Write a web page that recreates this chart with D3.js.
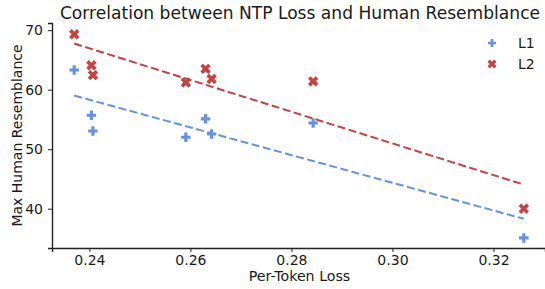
<!DOCTYPE html>
<html lang="en">
<head>
<meta charset="UTF-8">
<title>NTP Loss vs Human Resemblance</title>
<script src="https://d3js.org/d3.v7.min.js"></script>
<style>
    body { margin: 0; background: #fff; }
    text { font-family: "DejaVu Sans", sans-serif; fill: #1a1a1a; }
</style>
</head>
<body>
<svg width="545" height="289"></svg>
<script>
    // per-token loss for each checkpoint
    const loss = [0.2370, 0.2404, 0.2407, 0.2591, 0.2630, 0.2642, 0.2843, 0.3260];
    const l1Values = [63.3, 55.7, 53.05, 52.0, 55.1, 52.55, 54.4, 35.1];
    const l2Values = [69.3, 64.1, 62.45, 61.2, 63.5, 61.8, 61.4, 40.0];
    const xTicks = [0.24, 0.26, 0.28, 0.30, 0.32];
    const yTicks = [40, 50, 60, 70];

    const series = [
        {name: "L1", values: l1Values, color: "#6592e8", shape: "plus"},
        {name: "L2", values: l2Values, color: "#c84242", shape: "cross"}
    ];

    const svg = d3.select("svg");
    const plotL = 52, plotR = 545, plotT = 23, plotB = 248;

    const x = d3.scaleLinear().domain([0.2326, 0.3302]).range([plotL, plotR]);
    const y = d3.scaleLinear().domain([33.4, 71.2]).range([plotB, plotT]);

    // filled plus marker, rotated for the "X"
    function markerPath(s) {
        const a = s / 2, b = s / 6;
        return `M${-b},${-a}H${b}V${-b}H${a}V${b}H${b}V${a}H${-b}V${b}H${-a}V${-b}H${-b}Z`;
    }
    function drawMarker(g, shape, size) {
        g.append("path")
            .attr("d", markerPath(size))
            .attr("transform", shape == "cross" ? "rotate(45)" : null);
    }

    function fit(xs, ys) {
        const mx = d3.mean(xs), my = d3.mean(ys);
        let num = 0, den = 0;
        xs.forEach((v, i) => { num += (v - mx) * (ys[i] - my); den += (v - mx) * (v - mx); });
        const k = num / den;
        return v => my + k * (v - mx);
    }

    // axes
    const xAxis = svg.append("g")
        .attr("transform", `translate(0,${plotB})`)
        .call(d3.axisBottom(x).tickValues(xTicks).tickFormat(d3.format(".2f")).tickSizeOuter(0).tickSize(4));
    const yAxis = svg.append("g")
        .attr("transform", `translate(${plotL},0)`)
        .call(d3.axisLeft(y).tickValues(yTicks).tickSizeOuter(0).tickSize(4));
    [xAxis, yAxis].forEach(a => {
        a.select(".domain").attr("stroke", "#222").attr("stroke-width", 1.4);
        a.selectAll(".tick line").attr("stroke", "#222").attr("stroke-width", 1);
        a.selectAll(".tick text").style("font-size", "14px").attr("fill", "#1a1a1a");
    });
    xAxis.selectAll(".tick text").attr("y", 7).attr("dy", "0.72em");
    yAxis.selectAll(".tick text").attr("x", -9);

    // regression lines
    series.forEach(s => {
        const f = fit(loss, s.values);
        const x0 = d3.min(loss), x1 = d3.max(loss);
        svg.append("line")
            .attr("x1", x(x0)).attr("y1", y(f(x0)))
            .attr("x2", x(x1)).attr("y2", y(f(x1)))
            .attr("stroke", s.color)
            .attr("stroke-width", 2)
            .attr("stroke-dasharray", "8,3.5");
    });

    // points
    series.forEach(s => {
        svg.append("g").attr("fill", s.color)
            .selectAll("g")
            .data(s.values)
            .join("g")
            .attr("transform", (d, i) => `translate(${x(loss[i])},${y(d)})`)
            .each(function () { drawMarker(d3.select(this), s.shape, s.shape == "cross" ? 11 : 9.5); });
    });

    // legend
    const legend = svg.append("g").attr("transform", "translate(492,43)");
    series.forEach((s, i) => {
        const row = legend.append("g").attr("transform", `translate(0,${i * 21})`);
        const m = row.append("g").attr("fill", s.color);
        drawMarker(m, s.shape, s.shape == "cross" ? 9.5 : 8);
        row.append("text").attr("x", 26).attr("dy", "0.36em")
            .style("font-size", "14px").text(s.name);
    });

    // titles
    svg.append("text")
        .attr("x", 300).attr("y", 19)
        .attr("text-anchor", "middle")
        .style("font-size", "17.1px")
        .text("Correlation between NTP Loss and Human Resemblance");
    svg.append("text")
        .attr("x", (plotL + plotR) / 2 + 1).attr("y", 281)
        .attr("text-anchor", "middle")
        .style("font-size", "14.2px")
        .text("Per-Token Loss");
    svg.append("text")
        .attr("transform", `translate(22,${(plotT + plotB) / 2}) rotate(-90)`)
        .attr("text-anchor", "middle")
        .style("font-size", "14px")
        .text("Max Human Resemblance");
</script>
</body>
</html>
